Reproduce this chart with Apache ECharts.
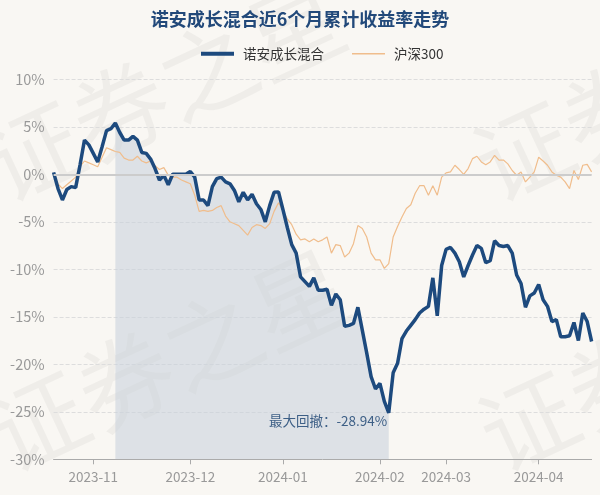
<!DOCTYPE html>
<html>
<head>
<meta charset="utf-8">
<script src="https://cdn.jsdelivr.net/npm/echarts@6/dist/echarts.min.js"></script>
<style>
html,body{margin:0;padding:0;background:#f9f7f3;}
#chart{width:600px;height:495px;}
</style>
</head>
<body>
<div id="chart"></div>
<script>
// Trading days per month (category axis)
const tradeDays = [
  ['2023-10', [19,20,23,24,25,26,27,30,31]],
  ['2023-11', [1,2,3,6,7,8,9,10,13,14,15,16,17,20,21,22,23,24,27,28,29,30]],
  ['2023-12', [1,4,5,6,7,8,11,12,13,14,15,18,19,20,21,22,25,26,27,28,29]],
  ['2024-01', [2,3,4,5,8,9,10,11,12,15,16,17,18,19,22,23,24,25,26,29,30,31]],
  ['2024-02', [1,2,5,6,7,8,19,20,21,22,23,26,27,28,29]],
  ['2024-03', [1,4,5,6,7,8,11,12,13,14,15,18,19,20,21,22,25,26,27,28,29]],
  ['2024-04', [1,2,3,8,9,10,11,12,15,16,17,18,19]]
];
const tickMonths = ['2023-11','2023-12','2024-01','2024-02','2024-03','2024-04'];

// Fund cumulative return (%)
const fundValues = [
  0.2, -1.5, -2.7, -1.6, -1.3, -1.4, 1.0, 3.6, 3.1, 2.2,
  1.3, 2.9, 4.6, 4.8, 5.4, 4.4, 3.6, 3.6, 4.0, 3.6,
  2.3, 2.2, 1.6, 0.6, -0.6, -0.1, -1.1, 0.0, 0.0, 0.0,
  0.0, 0.3, -0.3, -2.7, -2.7, -3.3, -1.3, -0.45, -0.3, -0.8,
  -1.0, -1.7, -2.9, -1.9, -2.7, -2.1, -3.1, -3.7, -5.0, -3.3,
  -1.9, -1.85, -3.7, -5.6, -7.4, -8.3, -10.8, -11.3, -11.8, -10.9,
  -12.2, -12.2, -12.1, -13.8, -12.6, -13.2, -16.0, -15.9, -15.7, -14.0,
  -16.4, -18.8, -21.3, -22.6, -22.0, -23.9, -25.1, -20.9, -19.9, -17.3,
  -16.5, -15.9, -15.3, -14.6, -14.2, -13.9, -10.9, -14.9, -9.6, -7.9,
  -7.7, -8.3, -9.2, -10.8, -9.6, -8.5, -7.5, -7.8, -9.3, -9.1,
  -7.0, -7.5, -7.6, -7.5, -8.3, -10.6, -11.5, -14.0, -12.8, -12.5,
  -11.6, -13.2, -13.9, -15.5, -15.3, -17.1, -17.1, -17.0, -15.6, -17.5,
  -14.6, -15.5, -17.6
];
// CSI 300 cumulative return (%)
const hs300Values = [
  0.0, -1.0, -1.5, -1.1, -0.7, -0.3, 0.8, 1.4, 1.2, 1.0,
  0.8, 1.8, 2.8, 2.6, 2.4, 2.3, 1.7, 1.5, 1.5, 1.9,
  1.4, 1.2, 1.4, 0.9, 0.5, 0.7, -0.1, -0.3, -0.3, -0.6,
  -0.8, -1.0, -2.2, -3.9, -3.8, -3.9, -3.8, -3.5, -3.3, -4.4,
  -5.0, -5.2, -5.4, -5.9, -6.4, -5.6, -5.3, -5.4, -5.7, -5.2,
  -3.9, -3.0, -3.8, -4.7, -5.3, -6.3, -6.9, -6.8, -7.1, -6.8,
  -7.1, -6.9, -6.6, -8.3, -7.4, -7.5, -8.7, -8.3, -7.3, -5.4,
  -5.7, -6.6, -8.3, -9.0, -9.0, -9.9, -9.4, -6.6, -5.5, -4.5,
  -3.6, -3.2, -2.0, -1.2, -1.2, -2.2, -1.2, -2.2, -0.3, 0.15,
  0.25, 0.95, 0.5, 0.0, 0.6, 1.65, 1.9, 1.3, 1.0, 1.3,
  2.0, 1.5, 1.5, 1.1, 0.4, -0.1, 0.25, -0.8, -0.3, 0.25,
  1.8, 1.4, 0.95, 0.25, -0.1, -0.3, -0.8, -1.5, 0.4, -0.55,
  0.95, 1.05, 0.25
];
const seriesNames = ['诺安成长混合', '沪深300'];
const titleText = '诺安成长混合近6个月累计收益率走势';
const drawdownStart = 14;   // peak index
const drawdownEnd = 76;     // trough index
const drawdownLabel = '最大回撤：-28.94%';
const yTicks = {min: -30, max: 10, interval: 5};

const dates = [];
tradeDays.forEach(([m, days]) => days.forEach(d => dates.push(m + '-' + String(d).padStart(2, '0'))));
const firstIdx = {};
dates.forEach((d, i) => { const m = d.slice(0, 7); if (!(m in firstIdx)) firstIdx[m] = i; });
const tickSet = new Set(tickMonths.map(m => firstIdx[m]));
const showTick = (idx) => tickSet.has(idx);

const ddValues = fundValues.map((v, i) => (i >= drawdownStart && i <= drawdownEnd) ? v : null);

const FONT = '"Noto Sans CJK SC", "Noto Sans", sans-serif';
const wmStyle = (x, y) => ({
  type: 'text', x: x, y: y, rotation: 25 * Math.PI / 180, z: -1, silent: true,
  style: { text: '证券之星', fill: 'rgba(0,0,0,0.04)', font: 'normal 96px ' + FONT, textAlign: 'left', textVerticalAlign: 'bottom' }
});

const chart = echarts.init(document.getElementById('chart'), null, {renderer: 'canvas'});
chart.setOption({
  animation: false,
  backgroundColor: '#f9f7f3',
  textStyle: { fontFamily: FONT },
  title: {
    text: titleText, left: 'center', top: 5,
    textStyle: { fontSize: 18, fontWeight: 'bold', color: '#22497a', fontFamily: FONT }
  },
  legend: {
    data: [
      { name: seriesNames[0], icon: 'path://M0,0H32V4H0Z' },
      { name: seriesNames[1], icon: 'path://M0,0H32V1.4H0Z' }
    ],
    top: 42, left: 196, itemWidth: 33, itemHeight: 12, itemGap: 28, symbolKeepAspect: true,
    textStyle: { fontSize: 13.5, color: '#333', fontFamily: FONT, padding: [0, 0, 0, 4] }
  },
  graphic: [wmStyle(10, 215), wmStyle(15, 485), wmStyle(500, 215), wmStyle(505, 485)],
  grid: { left: 53.6, right: 8.4, top: 79.3, bottom: 35.7 },
  xAxis: {
    type: 'category', data: dates, boundaryGap: false,
    axisLine: { onZero: false, lineStyle: { color: '#aaaaaa', width: 1 } },
    axisTick: { interval: showTick, length: 5, lineStyle: { color: '#aaaaaa' } },
    axisLabel: { interval: showTick, formatter: v => v.slice(0, 7), color: '#999999', fontSize: 13.5, margin: 11, fontFamily: FONT },
    splitLine: { show: false }
  },
  yAxis: {
    type: 'value', min: yTicks.min, max: yTicks.max, interval: yTicks.interval,
    axisLine: { show: false }, axisTick: { show: false },
    axisLabel: { formatter: '{value}%', color: '#999999', fontSize: 14.5, margin: 9, fontFamily: FONT },
    splitLine: { lineStyle: { type: 'dashed', color: '#dddddd', width: 1 } }
  },
  series: [
    {
      name: 'drawdown', type: 'line', data: ddValues, symbol: 'none', z: 1,
      lineStyle: { width: 0 },
      areaStyle: { origin: 'start', color: '#c6d0da', opacity: 0.55 },
      markLine: {
        silent: true, symbol: ['none', 'none'], label: { show: false },
        lineStyle: { color: '#cccccc', type: 'solid', width: 2 },
        data: [{ yAxis: 0 }]
      },
      markPoint: {
        silent: true, symbol: 'circle', symbolSize: 1, itemStyle: { color: 'rgba(0,0,0,0)' },
        label: { show: true, position: 'left', distance: 1, offset: [0, 8], formatter: drawdownLabel, color: '#3d5f86', fontSize: 13.5, fontFamily: FONT },
        data: [{ coord: [dates[drawdownEnd], fundValues[drawdownEnd]] }]
      }
    },
    {
      name: seriesNames[1], type: 'line', data: hs300Values, symbol: 'none', z: 2,
      itemStyle: { color: '#f0bd8c' },
      lineStyle: { color: '#f0bd8c', width: 1.2 }
    },
    {
      name: seriesNames[0], type: 'line', data: fundValues, symbol: 'none', z: 3,
      itemStyle: { color: '#1d4a7e' },
      lineStyle: { color: '#1d4a7e', width: 3.5 }
    }
  ]
});
</script>
</body>
</html>
